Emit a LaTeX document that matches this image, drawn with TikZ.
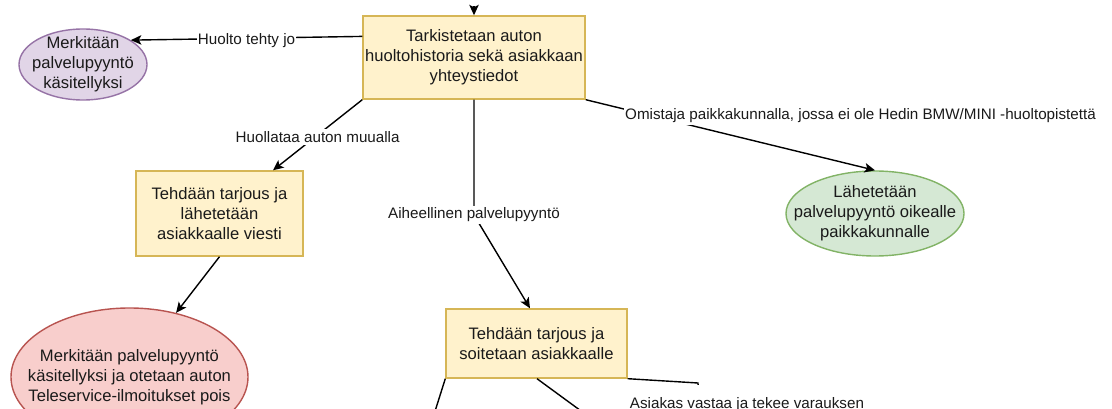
\documentclass[tikz,border=0pt]{standalone}
\usepackage{fontspec}
\setmainfont{Liberation Sans}
\usetikzlibrary{shapes.geometric,arrows.meta,calc}

\definecolor{yfill}{HTML}{FFF2CC}
\definecolor{ydraw}{HTML}{D6B656}
\definecolor{pfill}{HTML}{E1D5E7}
\definecolor{pdraw}{HTML}{9673A6}
\definecolor{gfill}{HTML}{D5E8D4}
\definecolor{gdraw}{HTML}{82B366}
\definecolor{rfill}{HTML}{F8CECC}
\definecolor{rdraw}{HTML}{B85450}
\definecolor{ink}{HTML}{1A1A1A}

\tikzset{
  stepbox/.style={draw=ydraw, fill=yfill, line width=1.4pt, inner sep=0pt,
    align=center, text=ink, font=\fontsize{16.6}{20}\selectfont},
  endshape/.style={ellipse, line width=1.4pt, inner sep=0pt},
  vtext/.style={align=center, text=ink, inner sep=0pt,
    font=\fontsize{16.6}{20}\selectfont},
  elabel/.style={fill=white, text=ink, inner xsep=1pt, inner ysep=2pt,
    font=\fontsize{15.2}{18}\selectfont},
  conn/.style={line width=1.4pt, draw=black},
  arr/.style={conn, -{Stealth[length=10.5pt,width=9.5pt,inset=2.5pt]}},
}

\begin{document}
\begin{tikzpicture}[x=1pt,y=-1pt]
  \useasboundingbox (0,0) rectangle (1112,409);

  % process boxes
  \node[stepbox, minimum width=222pt, minimum height=83pt] (main) at (474,57.5)
    {Tarkistetaan auton\\huoltohistoria sekä asiakkaan\\yhteystiedot};
  \node[stepbox, minimum width=167pt, minimum height=85pt] (offer) at (219.5,213.5)
    {Tehdään tarjous ja\\lähetetään\\asiakkaalle viesti};
  \node[stepbox, minimum width=181pt, minimum height=69pt] (call) at (536.5,343.5)
    {Tehdään tarjous ja\\soitetaan asiakkaalle};

  % end states
  \node[endshape, draw=pdraw, fill=pfill, minimum width=128pt, minimum height=71pt]
    (done) at (83,64.5) {};
  \node[vtext] (donetext) at (done) {Merkitään\\palvelupyyntö\\käsitellyksi};

  \node[endshape, draw=gdraw, fill=gfill, minimum width=178pt, minimum height=85pt]
    (fwd) at (875,213.5) {};
  \node[vtext] (fwdtext) at (fwd) {Lähetetään\\palvelupyyntö oikealle\\paikkakunnalle};

  \node[endshape, draw=rdraw, fill=rfill, minimum width=237pt, minimum height=138pt]
    (close) at (129.5,377) {};
  \node[vtext] (closetext) at (129.5,377.5)
    {Merkitään palvelupyyntö\\käsitellyksi ja otetaan auton\\Teleservice-ilmoitukset pois};

  % free ends of connectors
  \coordinate (in) at (474,6);
  \coordinate (bend) at (474,215);
  \coordinate (down1) at (419.6,460);
  \coordinate (down2) at (648,460);
  \coordinate (kink) at (698,383);
  \coordinate (down3) at (700,440);

  % connectors
  \draw[arr] (in) -- (main.north);

  \draw[arr] ($(main.north west)!0.25!(main.south west)$) -- (done.27.5)
    node[elabel, midway, yshift=-2.6pt] (l1) {Huolto tehty jo};

  \draw[arr] (main.south west) -- ([xshift=53.5pt]offer.north)
    node[elabel, midway, yshift=-2pt] (l2) {Huollataa auton muualla};

  \draw[arr] (main.south) -- (bend) -- ([xshift=-6.5pt]call.north);
  \node[elabel] (l3) at (bend) {Aiheellinen palvelupyyntö};

  \draw[arr] (main.south east) -- (fwd.north);
  \node[elabel] (l4) at (860.5,115.5)
    {Omistaja paikkakunnalla, jossa ei ole Hedin BMW/MINI -huoltopistettä};

  \draw[arr] (offer.south) -- (close.54.6);

  \draw[conn] (call.south west) -- (down1);
  \draw[conn] ([xshift=0.5pt]call.south) -- (down2);
  \draw[conn] (call.south east) -- (kink) -- (down3);
  \node[elabel, inner ysep=12pt, anchor=base] (l5) at (747,408)
    {Asiakas vastaa ja tekee varauksen};
\end{tikzpicture}
\end{document}
